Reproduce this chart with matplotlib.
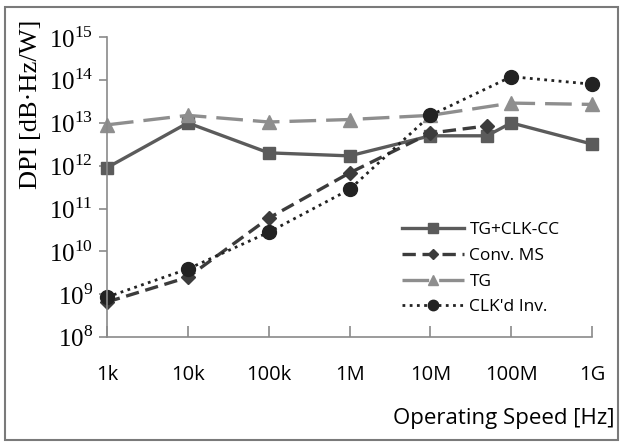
import numpy as np
import matplotlib
matplotlib.use("Agg")
from matplotlib import pyplot as plt
from matplotlib.patches import Rectangle

freq = [1e3, 1e4, 1e5, 1e6, 1e7, 5e7, 1e8, 1e9]
freq_ms = [1e3, 1e4, 1e5, 1e6, 1e7, 5e7]
freq_std = [1e3, 1e4, 1e5, 1e6, 1e7, 1e8, 1e9]

tg_clk_cc = [0.9e12, 1.0e13, 2.0e12, 1.7e12, 5.0e12, 5.0e12, 1.0e13, 3.2e12]
conv_ms = [6.6e8, 2.5e9, 6.0e10, 6.8e11, 5.8e12, 8.5e12]
tg = [9.0e12, 1.5e13, 1.05e13, 1.2e13, 1.5e13, 2.9e13, 2.7e13]
clkd_inv = [8.6e8, 3.9e9, 2.8e10, 2.8e11, 1.5e13, 1.2e14, 8.0e13]

xtick_vals = [1e3, 1e4, 1e5, 1e6, 1e7, 1e8, 1e9]
xtick_labels = ['1k', '10k', '100k', '1M', '10M', '100M', '1G']
ytick_exps = [8, 9, 10, 11, 12, 13, 14, 15]

plt.rcParams['mathtext.fontset'] = 'custom'
plt.rcParams['mathtext.rm'] = 'Liberation Serif'

fig = plt.figure(figsize=(6.22, 4.43), dpi=100)
ax = fig.add_axes([0.172, 0.239, 0.780, 0.677])

ax.plot(freq, tg_clk_cc, color='#5b5b5b', lw=2.4, ls='-', marker='s', ms=9,
        label='TG+CLK-CC', clip_on=False)
ax.plot(freq_ms, conv_ms, color='#3c3c3c', lw=2.4, ls=(0, (4, 2)), marker='D', ms=7,
        label='Conv. MS', clip_on=False)
ax.plot(freq_std, tg, color='#8e8e8e', lw=2.4, ls=(0, (8, 3)), marker='^', ms=10,
        label='TG', clip_on=False)
ax.plot(freq_std, clkd_inv, color='#222222', lw=2.0, ls=(0, (1, 1.6)), marker='o', ms=10,
        label="CLK'd Inv.", clip_on=False)

ax.set_xscale('log')
ax.set_yscale('log')
ax.set_xlim(1e3, 1e9)
ax.set_ylim(1e8, 1e15)
ax.minorticks_off()
ax.set_xticks(xtick_vals)
ax.set_xticklabels(xtick_labels, fontfamily='Open Sans', fontsize=14.5)
ax.set_yticks([10.0 ** e for e in ytick_exps])
ax.set_yticklabels(['10$^{%d}$' % e for e in ytick_exps], fontfamily='Liberation Serif',
                   fontsize=18)

for s in ['top', 'right']:
    ax.spines[s].set_visible(False)
for s in ['left', 'bottom']:
    ax.spines[s].set_color('#8a8a8a')
    ax.spines[s].set_linewidth(1.2)
ax.tick_params(axis='x', direction='in', length=8, width=1.2, color='#8a8a8a', pad=20)
ax.tick_params(axis='y', direction='out', length=6, width=1.2, color='#8a8a8a', pad=4)

leg = ax.legend(loc='lower right', bbox_to_anchor=(0.965, 0.02), frameon=False,
                prop={'family': 'Open Sans', 'size': 12.5}, handlelength=3.6,
                labelspacing=0.55, handletextpad=0.3, markerscale=0.75)

fig.text(0.988, 0.055, 'Operating Speed [Hz]', ha='right', va='center',
         fontfamily='Open Sans', fontsize=16)
fig.text(0.05, 0.765, 'DPI [dB\u00b7Hz/W]', ha='center', va='center', rotation=90,
         fontfamily='Liberation Serif', fontsize=19)

fig.patches.append(Rectangle((0.008, 0.006), 0.985, 0.978, transform=fig.transFigure,
                             fill=False, edgecolor='#7a7a7a', lw=1.5))

fig.savefig('out.png', dpi=100)
